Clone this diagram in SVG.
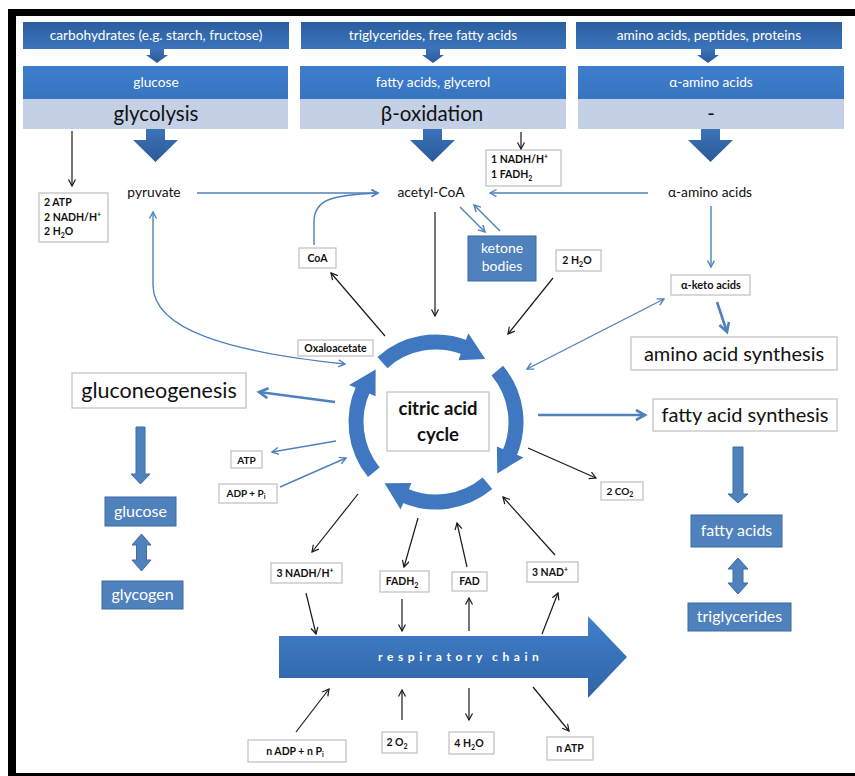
<svg xmlns="http://www.w3.org/2000/svg" width="855" height="776" viewBox="0 0 855 776">
<defs>
<linearGradient id="gTop" x1="0" y1="0" x2="0" y2="1"><stop offset="0" stop-color="#2b5e9f"/><stop offset="1" stop-color="#3b74bc"/></linearGradient>
<linearGradient id="gMid" x1="0" y1="0" x2="0" y2="1"><stop offset="0" stop-color="#3d7ecc"/><stop offset="1" stop-color="#3874c0"/></linearGradient>
<linearGradient id="gArr" x1="0" y1="0" x2="0" y2="1"><stop offset="0" stop-color="#3b72b8"/><stop offset="1" stop-color="#2b5a98"/></linearGradient>
<linearGradient id="gChain" x1="0" y1="0" x2="0" y2="1"><stop offset="0" stop-color="#5a93d6"/><stop offset="0.08" stop-color="#3f7ec8"/><stop offset="1" stop-color="#2f63a6"/></linearGradient>
<marker id="mk" markerUnits="userSpaceOnUse" markerWidth="10" markerHeight="10" refX="7" refY="4" orient="auto-start-reverse"><path d="M0.5,0.5 L7,4 L0.5,7.5" fill="none" stroke="#1a1a1a" stroke-width="1.2"/></marker>
<marker id="mb" markerUnits="userSpaceOnUse" markerWidth="10" markerHeight="10" refX="7" refY="4" orient="auto-start-reverse"><path d="M0.5,0.5 L7,4 L0.5,7.5" fill="none" stroke="#4f81bd" stroke-width="1.4"/></marker>
<marker id="mt" markerUnits="userSpaceOnUse" markerWidth="14" markerHeight="14" refX="10" refY="6" orient="auto-start-reverse"><path d="M1,1 L10,6 L1,11" fill="none" stroke="#4f81bd" stroke-width="2.6"/></marker>
<g id="seg">
<path d="M61.28,-51.42 A80,80 0 0 1 73.08,32.54" fill="none" stroke="#3f78c0" stroke-width="15"/>
<path d="M87.5,35.4 L60.9,24.6 L61.28,51.42 Z" fill="#3f78c0"/>
</g>
</defs>
<style>
.hdr{font-family:Lato,"Open Sans",sans-serif;font-size:13.7px;fill:#fff;text-anchor:middle}
.big{font-family:Lato,"Open Sans",sans-serif;font-size:20.5px;fill:#111;text-anchor:middle}
.lbl{font-family:Lato,"Open Sans",sans-serif;font-size:13.8px;fill:#111;text-anchor:middle}
.sm{font-family:Lato,"Open Sans",sans-serif;font-size:10.5px;font-weight:bold;fill:#111}
.smc{text-anchor:middle}
.wb{fill:#fff;stroke:#bfbfbf;stroke-width:1.2}
.bb{fill:#4f81bd;stroke:#3a6aa6;stroke-width:1}
.bt{font-family:Lato,"Open Sans",sans-serif;font-size:16px;fill:#fff;text-anchor:middle}
.k{fill:none;stroke:#1a1a1a;stroke-width:1.2;marker-end:url(#mk)}
.b{fill:none;stroke:#4f81bd;stroke-width:1.4;marker-end:url(#mb)}
.t{fill:none;stroke:#4f81bd;stroke-width:2.6;marker-end:url(#mt)}
.fa{fill:#4f81bd;stroke:#3d6da8;stroke-width:1}
</style>
<!-- frame -->
<rect x="8" y="9" width="860" height="780" fill="#000"/>
<rect x="16" y="16" width="850" height="757" fill="#fff"/>

<g id="hdr-carbs"><rect x="23" y="22" width="266" height="27" fill="url(#gTop)"/><text class="hdr" x="156" y="40">carbohydrates (e.g. starch, fructose)</text></g>
<g id="hdr-trig"><rect x="301" y="22" width="265" height="27" fill="url(#gTop)"/><text class="hdr" x="433" y="40">triglycerides, free fatty acids</text></g>
<g id="hdr-amino"><rect x="576" y="22" width="266" height="27" fill="url(#gTop)"/><text class="hdr" x="709" y="40">amino acids, peptides, proteins</text></g>

<g id="small-arrows" fill="url(#gArr)">
<polygon points="150,49 164,49 164,55 168,55 157,63 146,55 150,55"/>
<polygon points="426,49 440,49 440,55 444,55 433,63 422,55 426,55"/>
<polygon points="701,49 715,49 715,55 719,55 708,63 697,55 701,55"/>
</g>

<g id="glycolysis"><rect x="23" y="66" width="265" height="33" fill="url(#gMid)"/><rect x="23" y="99" width="265" height="30" fill="#c3d0e5"/><text class="hdr" x="156" y="87">glucose</text><text class="big" x="156" y="121">glycolysis</text></g>
<g id="beta-oxidation"><rect x="300" y="66" width="266" height="33" fill="url(#gMid)"/><rect x="300" y="99" width="266" height="30" fill="#c3d0e5"/><text class="hdr" x="433" y="87">fatty acids, glycerol</text><text class="big" x="432" y="121">β-oxidation</text></g>
<g id="amino-deg"><rect x="578" y="66" width="266" height="33" fill="url(#gMid)"/><rect x="578" y="99" width="266" height="30" fill="#c3d0e5"/><text class="hdr" x="711" y="87">α-amino acids</text><text class="big" x="711" y="121">-</text></g>

<g id="big-arrows" fill="url(#gArr)">
<polygon points="146,129 165,129 165,140 178,140 155.5,162 133,140 146,140"/>
<polygon points="423,129 442,129 442,140 455,140 432.5,162 410,140 423,140"/>
<polygon points="701,129 720,129 720,140 733,140 710.5,162 688,140 701,140"/>
</g>

<g id="glyco-yield"><rect class="wb" x="39" y="193" width="69" height="49"/><text class="sm" x="44" y="206">2 ATP</text><text class="sm" x="44" y="221">2 NADH/H<tspan font-size="7" dy="-4">+</tspan></text><text class="sm" x="44" y="235">2 H<tspan font-size="7" dy="3">2</tspan><tspan dy="-3">O</tspan></text></g>
<g id="beta-yield"><rect class="wb" x="486" y="150" width="75" height="36"/><text class="sm" x="491" y="163">1 NADH/H<tspan font-size="7" dy="-4">+</tspan></text><text class="sm" x="491" y="178">1 FADH<tspan font-size="7" dy="3">2</tspan></text></g>

<g id="pyruvate"><text class="lbl" x="154" y="197">pyruvate</text></g>
<g id="acetyl-coa"><text class="lbl" x="431" y="197">acetyl-CoA</text></g>
<g id="alpha-amino"><text class="lbl" x="710" y="197">α-amino acids</text></g>

<g id="ketone"><rect class="bb" x="468" y="236" width="68" height="45"/><text class="bt" x="502" y="253" style="font-size:14px">ketone</text><text class="bt" x="502" y="271" style="font-size:14px">bodies</text></g>
<g id="coa"><rect class="wb" x="299" y="248" width="37" height="20"/><text class="sm smc" x="317.5" y="262">CoA</text></g>
<g id="h2o-in"><rect class="wb" x="556" y="250" width="45" height="21"/><text class="sm smc" x="577" y="264">2 H<tspan font-size="7" dy="3">2</tspan><tspan dy="-3">O</tspan></text></g>
<g id="keto"><rect class="wb" x="671" y="275" width="79" height="20"/><text class="sm smc" x="711" y="289" style="font-size:11px">α-keto acids</text></g>
<g id="aa-synth"><rect class="wb" x="631" y="337" width="206" height="33"/><text class="big" x="734" y="361" style="font-size:20px">amino acid synthesis</text></g>
<g id="oxaloacetate"><rect class="wb" x="298" y="340" width="75" height="16"/><text class="sm smc" x="335.5" y="352" style="font-size:10.5px">Oxaloacetate</text></g>
<g id="gluconeo"><rect class="wb" x="72" y="373" width="174" height="35"/><text class="big" x="159" y="398" style="font-size:21.5px">gluconeogenesis</text></g>
<g id="fa-synth"><rect class="wb" x="653" y="399" width="184" height="32"/><text class="big" x="745" y="422" style="font-size:20px">fatty acid synthesis</text></g>

<g id="cycle">
<use href="#seg" transform="translate(436,422) rotate(-92)"/>
<use href="#seg" transform="translate(436,422) rotate(0)"/>
<use href="#seg" transform="translate(436,422) rotate(90)"/>
<use href="#seg" transform="translate(436,422) rotate(181)"/>
<rect class="wb" x="387" y="392" width="102" height="59"/>
<text class="sm smc" x="438" y="415" style="font-size:18.5px">citric acid</text>
<text class="sm smc" x="438" y="441" style="font-size:18.5px">cycle</text>
</g>

<g id="atp"><rect class="wb" x="231" y="451" width="31" height="17"/><text class="sm smc" x="246.5" y="464" style="font-size:10px">ATP</text></g>
<g id="adp"><rect class="wb" x="219" y="484" width="58" height="19"/><text class="sm smc" x="246" y="497" style="font-size:10px">ADP + P<tspan font-size="7" dy="2">i</tspan></text></g>
<g id="co2"><rect class="wb" x="601" y="482" width="42" height="18"/><text class="sm smc" x="620" y="495" style="font-size:10px">2 CO<tspan font-size="7" dy="2">2</tspan></text></g>

<g id="glucose"><rect class="bb" x="105" y="497" width="71" height="29"/><text class="bt" x="140.5" y="517">glucose</text></g>
<g id="glycogen"><rect class="bb" x="102" y="581" width="81" height="28"/><text class="bt" x="142.5" y="600">glycogen</text></g>
<g id="fatty-acids"><rect class="bb" x="691" y="515" width="91" height="32"/><text class="bt" x="736.5" y="536">fatty acids</text></g>
<g id="triglycerides"><rect class="bb" x="688" y="603" width="103" height="28"/><text class="bt" x="739.5" y="622">triglycerides</text></g>

<g id="nadh3"><rect class="wb" x="271" y="563" width="71" height="20"/><text class="sm smc" x="305" y="577">3 NADH/H<tspan font-size="7" dy="-4">+</tspan></text></g>
<g id="fadh2"><rect class="wb" x="380" y="571" width="49" height="21"/><text class="sm smc" x="402" y="585">FADH<tspan font-size="7" dy="3">2</tspan></text></g>
<g id="fad"><rect class="wb" x="452" y="572" width="35" height="19"/><text class="sm smc" x="469.5" y="585">FAD</text></g>
<g id="nad3"><rect class="wb" x="527" y="562" width="51" height="20"/><text class="sm smc" x="550" y="576">3 NAD<tspan font-size="7" dy="-4">+</tspan></text></g>

<g id="resp-chain"><polygon points="279,636 588,636 588,616 627,657 588,698 588,678 279,678" fill="url(#gChain)"/><text x="378" y="661" font-family="Lato,'Open Sans',sans-serif" font-size="12" font-weight="bold" fill="#fff" letter-spacing="4.6">respiratory</text><text x="492" y="661" font-family="Lato,'Open Sans',sans-serif" font-size="12" font-weight="bold" fill="#fff" letter-spacing="4.6">chain</text></g>

<g id="nadp"><rect class="wb" x="248" y="740" width="98" height="22"/><text class="sm smc" x="295" y="755">n ADP + n P<tspan font-size="7" dy="2">i</tspan></text></g>
<g id="o2"><rect class="wb" x="382" y="732" width="35" height="21"/><text class="sm smc" x="397" y="746">2 O<tspan font-size="7" dy="3">2</tspan></text></g>
<g id="h2o-out"><rect class="wb" x="449" y="732" width="45" height="22"/><text class="sm smc" x="469" y="747">4 H<tspan font-size="7" dy="3">2</tspan><tspan dy="-3">O</tspan></text></g>
<g id="natp"><rect class="wb" x="547" y="737" width="46" height="23"/><text class="sm smc" x="570" y="752">n ATP</text></g>

<g id="fat-arrows">
<polygon class="fa" points="136,427 145,427 145,474 150,474 140.5,484 131,474 136,474"/>
<polygon class="fa" points="733,447 743,447 743,494 748,494 738,503 728,494 733,494"/>
<polygon class="fa" points="141.5,534 151,545 146.5,545 146.5,560 151,560 141.5,571 132,560 136.5,560 136.5,545 132,545"/>
<polygon class="fa" points="738,558 748,569 743,569 743,583 748,583 738,594 728,583 733,583 733,569 728,569"/>
</g>

<g id="connectors">
<path class="k" d="M72,131 L72,186"/>
<path class="k" d="M521,132 L521,149"/>
<path class="k" d="M435,212 L435,316"/>
<path class="k" d="M385,336 L331,273"/>
<path class="k" d="M553,278 L508,334"/>
<path class="k" d="M528,448 L596,478"/>
<path class="k" d="M358,494 L312,552"/>
<path class="k" d="M418,518 L404,567"/>
<path class="k" d="M467,567 L457,523"/>
<path class="k" d="M555,555 L503,497"/>
<path class="k" d="M306,593 L316,634"/>
<path class="k" d="M402,599 L402,631"/>
<path class="k" d="M469,631 L469,598"/>
<path class="k" d="M542,634 L558,593"/>
<path class="k" d="M296,732 L329,689"/>
<path class="k" d="M402,720 L402,690"/>
<path class="k" d="M469,688 L469,720"/>
<path class="k" d="M533,687 L569,731"/>

<path class="b" d="M197,193 L378,193"/>
<path class="b" d="M314,245 L314,222 C314,200 330,195 378,193"/>
<path class="b" d="M648,193 L490,193"/>
<path class="b" d="M460,207 L485,232"/>
<path class="b" d="M500,231 L474,205"/>
<path class="b" d="M711,206 L711,267"/>
<path class="b" d="M664,299 L527,369" marker-start="url(#mb)"/>
<path class="b" d="M153,212 L153,285 C153,330 230,352 345,364" marker-start="url(#mb)"/>
<path class="b" d="M336,441 L272,452"/>
<path class="b" d="M280,487 L346,458"/>

<path class="t" d="M335,402 L259,392"/>
<path class="t" d="M538,415 L645,415"/>
<path class="t" d="M717,302 L727,332"/>
</g>
</svg>
